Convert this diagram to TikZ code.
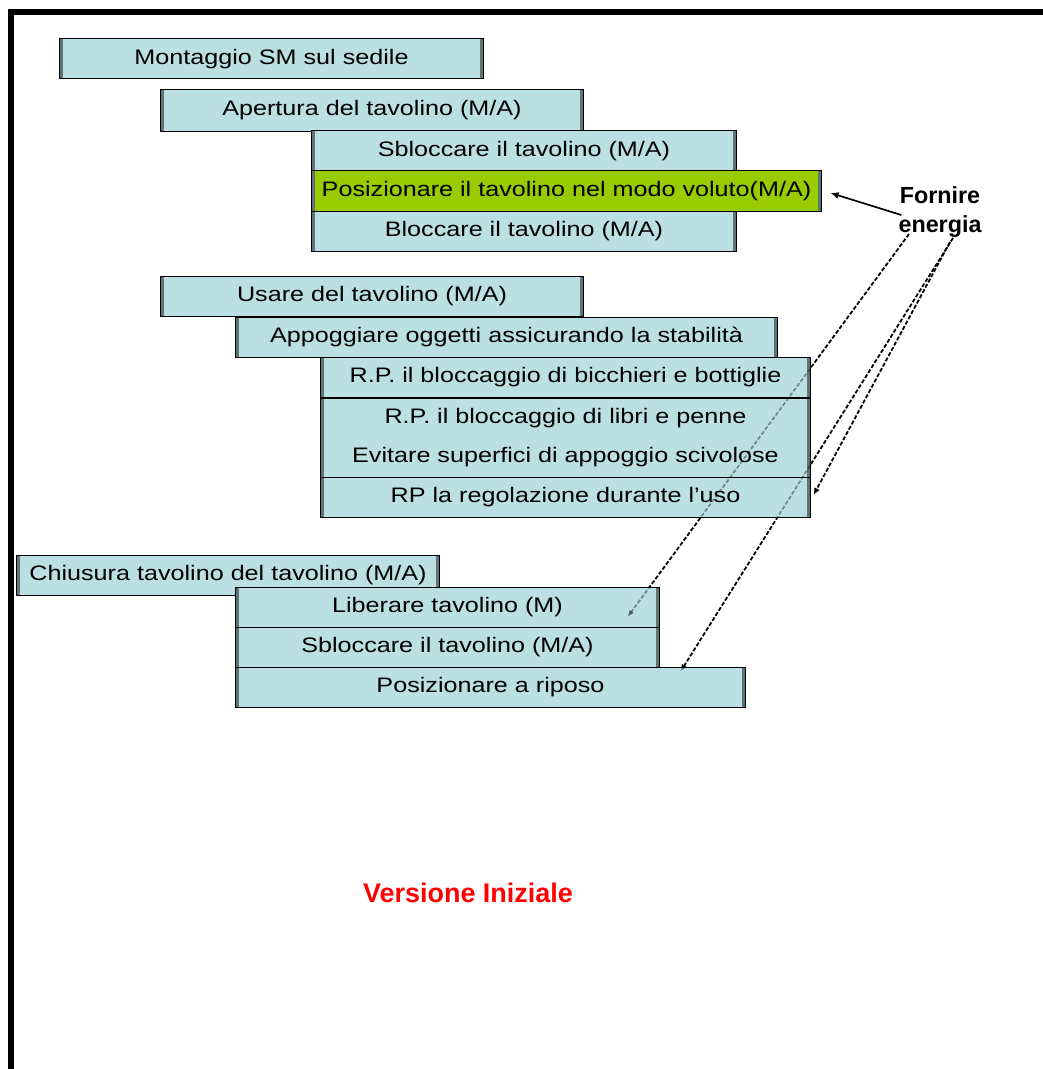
\documentclass[tikz,border=0pt]{standalone}
\usepackage{fontspec}
\setmainfont{Liberation Sans}
\newfontfamily\testocella[FakeStretch=1.2]{Liberation Sans}
\usetikzlibrary{arrows.meta,calc}
\definecolor{azzurro}{RGB}{187,224,227}
\definecolor{verdino}{RGB}{153,204,0}
\definecolor{bordogrigio}{RGB}{95,115,115}
\pgfdeclarelayer{sotto}
\pgfsetlayers{sotto,main}

\tikzset{
  cella/.style={rectangle,fill=azzurro,draw=black,line width=0.03cm,
    minimum height=1.2cm,inner sep=0pt,align=center,
    font=\testocella\fontsize{17.9}{34}\selectfont,
    path picture={\draw[bordogrigio,line width=0.18cm]
      (path picture bounding box.north west) -- (path picture bounding box.south west)
      (path picture bounding box.north east) -- (path picture bounding box.south east);}},
  tratteggio/.style={draw,line width=0.05cm,dash pattern=on 3.4pt off 1.7pt,
    -{Latex[length=6pt,width=5pt]}},
  freccia/.style={draw,line width=0.05cm,-{Latex[length=7pt,width=6pt]}}
}

% frecce da "Fornire energia" verso le funzioni
\newcommand{\frecceenergia}[1]{%
  \path
    ($(fornire.center)+(-31,22)$) edge[tratteggio,#1] ($(libera.east)+(-32,10)$)
    ($(fornire.center)+(10,30)$) edge[tratteggio,#1] ($(regola.east)+(3,-2)$)
    ($(fornire.center)+(13,26)$) edge[tratteggio,#1] ($(riposo.north east)+(-65,5)$);
}

\begin{document}
\begin{tikzpicture}[x=0.03cm,y=-0.03cm]
    \useasboundingbox (0,0) rectangle (1043,1069);
    \draw[line width=0.18cm] (11,1069) -- (11,12) -- (1043,12);

    % apertura
    \node[cella,minimum width=12.69cm] (montaggio) at (271.5,59) {Montaggio SM sul sedile};
    \node[cella,minimum width=12.66cm,minimum height=1.23cm] (apertura) at (372,110.5) {Apertura del tavolino (M/A)};
    \node[cella,minimum width=12.72cm] (sblocca) at (524,151) {Sbloccare il tavolino (M/A)};
    \node[cella,fill=verdino,minimum width=15.27cm] (posiziona) at (566.5,191) {Posizionare il tavolino nel modo voluto(M/A)};
    \node[cella,minimum width=12.72cm] (blocca) at (524,231.5) {Bloccare il tavolino (M/A)};

    % uso
    \node[cella,minimum width=12.66cm] (usare) at (372,296.5) {Usare del tavolino (M/A)};
    \node[cella,minimum width=16.23cm] (appoggia) at (506.5,337) {Appoggiare oggetti assicurando la stabilità};
    \node[cella,minimum width=14.67cm] (bicchieri) at (565.5,377.5) {R.P. il bloccaggio di bicchieri e bottiglie};
    \node[cella,minimum width=14.67cm,minimum height=2.37cm] (libri) at (565.5,437.5) {R.P. il bloccaggio di libri e penne\\Evitare superfici di appoggio scivolose};
    \node[cella,minimum width=14.67cm] (regola) at (565.5,497) {RP la regolazione durante l’uso};

    % chiusura
    \node[cella,minimum width=12.66cm] (chiusura) at (228,575) {Chiusura tavolino del tavolino (M/A)};
    \node[cella,minimum width=12.69cm] (libera) at (447.5,607) {Liberare tavolino (M)};
    \node[cella,minimum width=12.69cm] (sblocca2) at (447.5,647) {Sbloccare il tavolino (M/A)};
    \node[cella,minimum width=15.27cm] (riposo) at (490.5,687) {Posizionare a riposo};

    \node[inner sep=0pt,align=center,font=\bfseries\fontsize{19.9}{24.7}\selectfont] (fornire) at (940,212) {Fornire\\energia};
    \node[text=red,font=\bfseries\fontsize{23}{27}\selectfont] (versione) at (468,893) {Versione Iniziale};

    \draw[freccia] ($(fornire.west)+(3,3)$) -- ($(posiziona.east)+(9,2)$);

    \begin{pgfonlayer}{sotto}
      \frecceenergia{black}
    \end{pgfonlayer}
    \frecceenergia{draw opacity=0.4,fill opacity=0.4}
\end{tikzpicture}
\end{document}
